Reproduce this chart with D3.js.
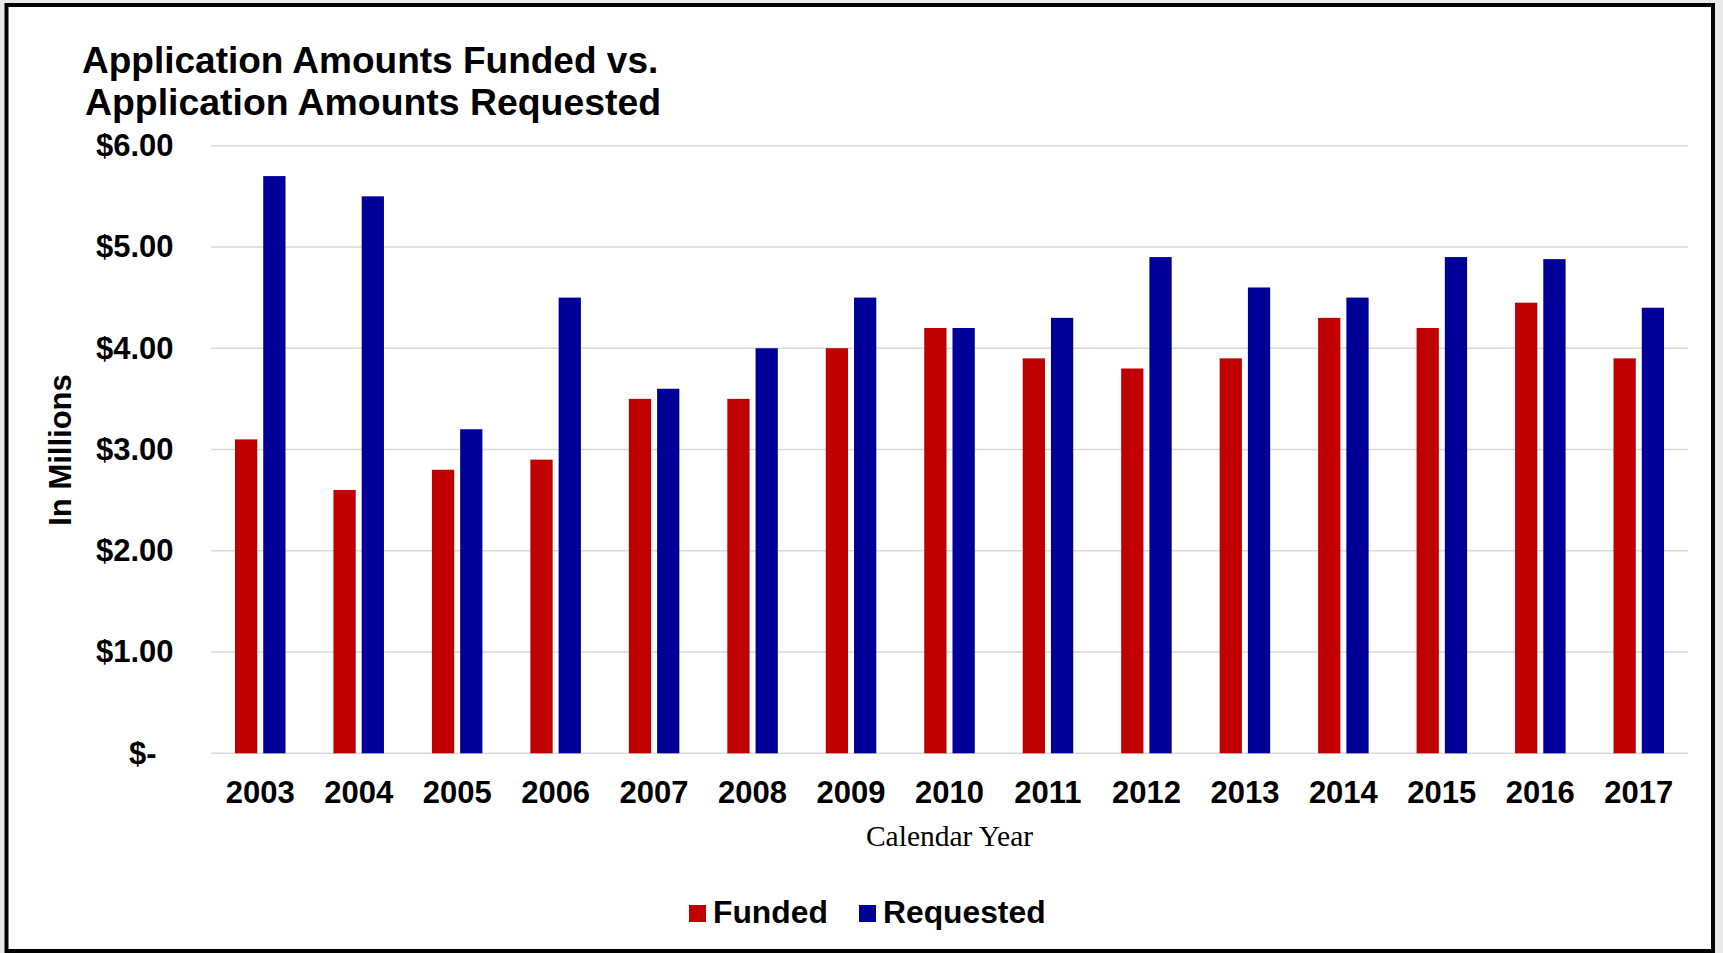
<!DOCTYPE html>
<html>
<head>
<meta charset="utf-8">
<script src="https://cdn.jsdelivr.net/npm/d3@7"></script>
<style>
  html, body { margin: 0; padding: 0; background: #e9e9e9; }
  svg { display: block; }
</style>
</head>
<body>
<svg id="chart" width="1723" height="953"></svg>
<script>
// Calendar years and dollar amounts (in millions)
const years = ["2003","2004","2005","2006","2007","2008","2009","2010","2011","2012","2013","2014","2015","2016","2017"];
const funded = [3.10, 2.60, 2.80, 2.90, 3.50, 3.50, 4.00, 4.20, 3.90, 3.80, 3.90, 4.30, 4.20, 4.45, 3.90];
const requested = [5.70, 5.50, 3.20, 4.50, 3.60, 4.00, 4.50, 4.20, 4.30, 4.90, 4.60, 4.50, 4.90, 4.88, 4.40];
const seriesNames = ["Funded", "Requested"];
const seriesColors = ["#C00000", "#000099"];
const yTicks = [0, 1, 2, 3, 4, 5, 6];
const titleLines = ["Application Amounts Funded vs.", "Application Amounts Requested"];

const svg = d3.select("#chart");
const W = 1723, H = 953;
const bold = "'Liberation Sans', Arial, sans-serif";

// Frame
svg.append("rect").attr("x", 0).attr("y", 0).attr("width", W).attr("height", H).attr("fill", "#e9e9e9");
svg.append("rect")
  .attr("x", 6.5).attr("y", 5).attr("width", 1706.5).attr("height", 946)
  .attr("fill", "#ffffff").attr("stroke", "#000").attr("stroke-width", 4);

const plot = { left: 211, right: 1688, top: 145.7, bottom: 753.3 };

const x0 = d3.scaleBand().domain(years)
  .range([plot.left, plot.right])
  .paddingInner(0.487).paddingOuter(0.2435);
const x1 = d3.scaleBand().domain(seriesNames)
  .range([0, x0.bandwidth()])
  .paddingInner(0.212).paddingOuter(0);
const y = d3.scaleLinear().domain([0, 6]).range([plot.bottom, plot.top]);

// Gridlines
svg.append("g").selectAll("line").data(yTicks).join("line")
  .attr("x1", plot.left).attr("x2", plot.right)
  .attr("y1", d => y(d)).attr("y2", d => y(d))
  .attr("stroke", "#d9d9d9").attr("stroke-width", 1.6);

// Y axis labels
const fmt = d => d === 0 ? "$-" : "$" + d3.format(".2f")(d);
const yAxis = d3.axisLeft(y).tickValues(yTicks).tickFormat(fmt).tickSize(0).tickPadding(0);
const gy = svg.append("g").attr("transform", `translate(173.5,0)`).call(yAxis);
gy.select(".domain").remove();
gy.selectAll("text")
  .attr("font-family", bold).attr("font-weight", "bold").attr("font-size", 31)
  .attr("fill", "#000")
  .attr("dx", d => d === 0 ? -17 : 0);

// X axis labels
const xAxis = d3.axisBottom(x0).tickSize(0).tickPadding(0);
const gx = svg.append("g").attr("transform", `translate(0,${plot.bottom})`).call(xAxis);
gx.select(".domain").remove();
gx.selectAll("text")
  .attr("font-family", bold).attr("font-weight", "bold").attr("font-size", 31)
  .attr("fill", "#000").attr("dy", null).attr("y", 50);

// Bars
const rows = years.map((yr, i) => ({ year: yr, values: [funded[i], requested[i]] }));
const groups = svg.append("g").selectAll("g").data(rows).join("g")
  .attr("transform", d => `translate(${x0(d.year)},0)`);
groups.selectAll("rect")
  .data(d => d.values.map((v, j) => ({ name: seriesNames[j], value: v, color: seriesColors[j] })))
  .join("rect")
  .attr("x", d => x1(d.name))
  .attr("width", x1.bandwidth())
  .attr("y", d => y(d.value))
  .attr("height", d => y(0) - y(d.value))
  .attr("fill", d => d.color);

// Title
svg.append("text")
  .attr("font-family", bold).attr("font-weight", "bold").attr("font-size", 37)
  .attr("fill", "#000")
  .selectAll("tspan").data(titleLines).join("tspan")
  .attr("x", (d, i) => i === 0 ? 82 : 85)
  .attr("y", (d, i) => 72.7 + i * 42)
  .attr("font-size", (d, i) => i === 0 ? 37 : 37.4)
  .text(d => d);

// Y axis title
svg.append("text")
  .attr("transform", "translate(71,450) rotate(-90)")
  .attr("text-anchor", "middle")
  .attr("font-family", bold).attr("font-weight", "bold").attr("font-size", 31)
  .attr("fill", "#000")
  .text("In Millions");

// X axis title
svg.append("text")
  .attr("x", (plot.left + plot.right) / 2).attr("y", 846)
  .attr("text-anchor", "middle")
  .attr("font-family", "'Liberation Serif', 'Times New Roman', serif").attr("font-size", 29.5)
  .attr("fill", "#000")
  .text("Calendar Year");

// Legend
const legendX = [689, 859];
const legend = svg.append("g").selectAll("g").data(seriesNames).join("g")
  .attr("transform", (d, i) => `translate(${legendX[i]},905)`);
legend.append("rect").attr("width", 17).attr("height", 17)
  .attr("fill", (d, i) => seriesColors[i]);
legend.append("text").attr("x", 24).attr("y", 18.3)
  .attr("font-family", bold).attr("font-weight", "bold").attr("font-size", 31.8)
  .attr("fill", "#000").text(d => d);
</script>
</body>
</html>
